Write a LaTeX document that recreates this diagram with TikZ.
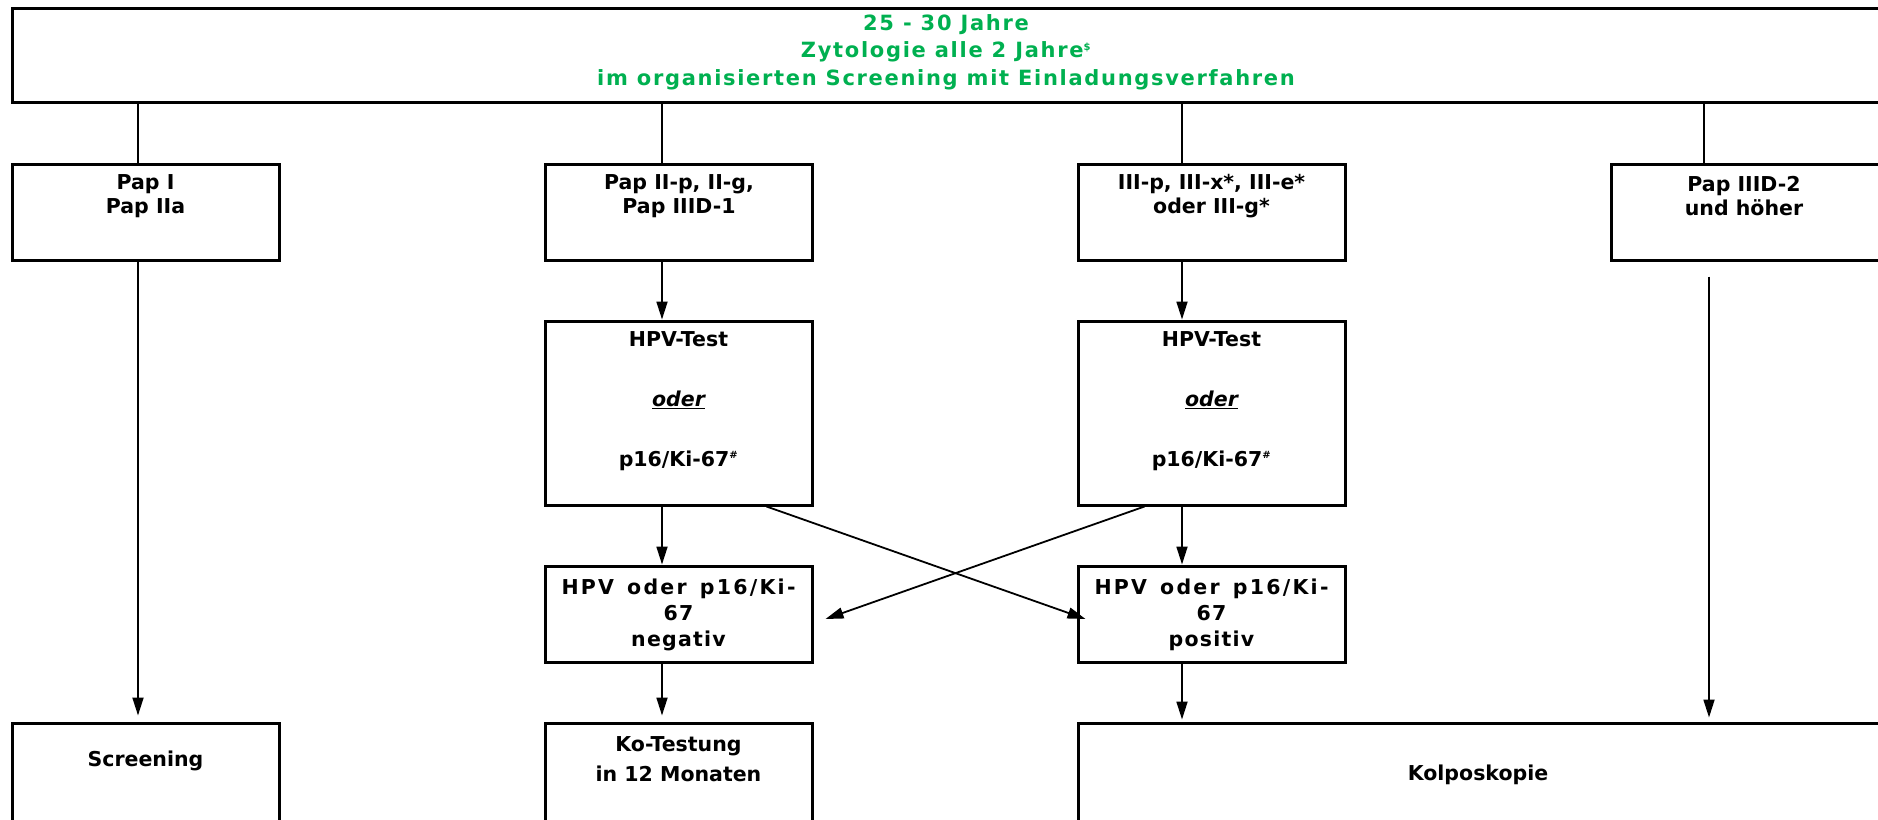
\documentclass[tikz,border=0pt]{standalone}
\usepackage{fontspec}
\setmainfont{DejaVu Sans}
\usetikzlibrary{arrows.meta,calc}
\definecolor{titlegreen}{RGB}{0,176,80}

\newcommand{\supmark}[1]{\textsuperscript{\fontsize{10}{10}\selectfont #1}}

\tikzset{
  box/.style={draw, line width=3pt, inner sep=0pt},
  wire/.style={line width=1.8pt},
  arr/.style={wire, -{Triangle[length=18pt,width=11pt]}},
  lbl/.style={font=\bfseries\fontsize{20.5}{24}\selectfont, align=center, inner sep=0pt},
  wide/.style={font=\bfseries\fontsize{20.5}{60}\selectfont},
  mid/.style={font=\bfseries\fontsize{20.5}{26}\selectfont\addfontfeature{LetterSpace=6}},
  low/.style={font=\bfseries\fontsize{20.5}{30}\selectfont},
  head/.style={font=\bfseries\fontsize{21}{27.5}\selectfont\addfontfeature{LetterSpace=8},
    text=titlegreen},
}

\begin{document}
\begin{tikzpicture}[x=1pt,y=-1pt]
  \useasboundingbox (0,0) rectangle (1878,819);

  % column positions of the vertical connectors
  \coordinate (c1) at (138,0);
  \coordinate (c2) at (662,0);
  \coordinate (c3) at (1182,0);
  \coordinate (c4) at (1704,0);
  \coordinate (c4b) at (1709,0);

  % header
  \node[box, minimum width=1870pt, minimum height=94pt] (top) at (947,55) {};
  \node[lbl, head] (title) at (946,52)
    {25 - 30 Jahre\\Zytologie alle 2 Jahre\supmark{\$}\\im organisierten Screening mit Einladungsverfahren};

  % first row: cytology results
  \node[box, minimum width=267pt, minimum height=96pt] (b1) at (145.5,212) {};
  \node[box, minimum width=267pt, minimum height=96pt] (b2) at (678.5,212) {};
  \node[box, minimum width=267pt, minimum height=96pt] (b3) at (1211.5,212) {};
  \node[box, minimum width=269pt, minimum height=96pt] (b4) at (1745.5,212) {};
  \node[lbl] (t1) at (145.5,196) {Pap I\\Pap IIa};
  \node[lbl] (t2) at (679,196) {Pap II-p, II-g,\\Pap IIID-1};
  \node[lbl] (t3) at (1211.5,196) {III-p, III-x*, III-e*\\oder III-g*};
  \node[lbl] (t4) at (1744,196) {Pap IIID-2\\und höher};

  % second row: triage tests
  \node[box, minimum width=267pt, minimum height=184pt] (h1) at (678.5,413) {};
  \node[box, minimum width=267pt, minimum height=184pt] (h2) at (1211.5,413) {};
  \node[lbl, wide] (th1) at (678.5,401)
    {HPV-Test\\\underline{\itshape oder}\\p16/Ki-67\supmark{\#}};
  \node[lbl, wide] (th2) at (1211.5,401)
    {HPV-Test\\\underline{\itshape oder}\\p16/Ki-67\supmark{\#}};

  % third row: test outcome
  \node[box, minimum width=267pt, minimum height=96pt] (neg) at (678.5,614) {};
  \node[box, minimum width=267pt, minimum height=96pt] (pos) at (1211.5,614) {};
  \node[lbl, mid] (tn) at (678.5,615)
    {\makebox[234pt][s]{\addfontfeature{LetterSpace=11}HPV oder p16/Ki-}\\67\\negativ};
  \node[lbl, mid] (tp) at (1211.5,615)
    {\makebox[234pt][s]{\addfontfeature{LetterSpace=11}HPV oder p16/Ki-}\\67\\positiv};

  % bottom row: consequences
  \node[box, minimum width=267pt, minimum height=110pt] (scr) at (145.5,778) {};
  \node[box, minimum width=267pt, minimum height=110pt] (ko) at (678.5,778) {};
  \node[box, minimum width=804pt, minimum height=110pt] (kolpo) at (1480,778) {};
  \node[lbl] (ts) at (145.5,761) {Screening};
  \node[lbl, low] (tk) at (678.5,759) {Ko-Testung\\in 12 Monaten};
  \node[lbl] (tkol) at (1478,775) {Kolposkopie};

  % header to first row
  \draw[wire] (top.south -| c1) -- (b1.north -| c1);
  \draw[wire] (top.south -| c2) -- (b2.north -| c2);
  \draw[wire] (top.south -| c3) -- (b3.north -| c3);
  \draw[wire] (top.south -| c4) -- (b4.north -| c4);

  % arrows
  \draw[arr] (b1.south -| c1) -- ($(scr.north -| c1)+(0,-6)$);
  \draw[arr] (b2.south -| c2) -- (h1.north -| c2);
  \draw[arr] (b3.south -| c3) -- (h2.north -| c3);
  \draw[arr] ($(b4.south -| c4b)+(0,15)$) -- ($(kolpo.north -| c4b)+(0,-4)$);

  \draw[arr] (h1.south -| c2) -- (neg.north -| c2);
  \draw[arr] (h2.south -| c3) -- (pos.north -| c3);
  \draw[arr] ($(h1.south)+(88,0)$) -- ($(pos.west)+(9,5)$);
  \draw[arr] ($(h2.south)+(-67,0)$) -- ($(neg.east)+(12,5)$);

  \draw[arr] (neg.south -| c2) -- ($(ko.north -| c2)+(0,-6)$);
  \draw[arr] (pos.south -| c3) -- ($(kolpo.north -| c3)+(0,-2)$);
\end{tikzpicture}
\end{document}
